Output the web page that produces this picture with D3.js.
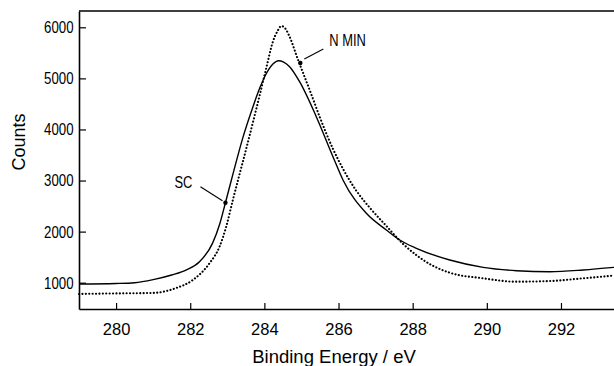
<!DOCTYPE html>
<html>
<head>
<meta charset="utf-8">
<script src="https://cdn.jsdelivr.net/npm/d3@7"></script>
<style>
  body { margin: 0; background: #fff; }
  svg { display: block; font-family: "Liberation Sans", Arial, sans-serif; }
</style>
</head>
<body>
<svg id="chart"></svg>
<script>
// binding energy (eV) and counts
const energySC = [279.0, 280.0, 280.5, 281.0, 281.5, 281.9, 282.25, 282.6, 282.8, 282.95, 283.15, 283.42, 283.69, 283.87, 284.05, 284.23, 284.38, 284.52, 284.68, 284.95, 285.4, 285.85, 286.12, 286.75, 287.29, 287.65, 288.1, 289.0, 289.9, 290.8, 291.7, 292.6, 293.43];
const countsSC = [975, 985, 1000, 1060, 1150, 1250, 1410, 1770, 2160, 2566, 3120, 3840, 4440, 4800, 5090, 5280, 5346, 5320, 5229, 4935, 4250, 3467, 3011, 2359, 2032, 1836, 1673, 1444, 1301, 1235, 1215, 1249, 1300];

const energyNMIN = [279.0, 280.0, 281.0, 281.6, 282.07, 282.52, 282.79, 282.97, 283.15, 283.3, 283.51, 283.74, 283.87, 284.05, 284.23, 284.35, 284.46, 284.57, 284.68, 284.9, 285.27, 285.49, 285.85, 286.12, 286.48, 286.84, 287.29, 287.74, 288.1, 288.55, 289.0, 289.9, 290.8, 291.7, 292.6, 293.43];
const countsNMIN = [780, 790, 800, 890, 1053, 1380, 1705, 2096, 2619, 3040, 3620, 4280, 4660, 5200, 5720, 5920, 6025, 5970, 5816, 5380, 4680, 4250, 3620, 3230, 2800, 2470, 2110, 1760, 1540, 1330, 1195, 1086, 1020, 1033, 1086, 1140];

const xTicks = [280, 282, 284, 286, 288, 290, 292];
const yTicks = [1000, 2000, 3000, 4000, 5000, 6000];

// labelled points: [energy, counts]
const markSC = [282.95, 2566];
const markNMIN = [284.97, 5300];

const width = 614, height = 366;
const margin = {top: 11, right: 0, bottom: 57, left: 79};

const svg = d3.select('#chart')
    .attr('width', width)
    .attr('height', height);

const x = d3.scaleLinear()
    .domain([279, 293.43])
    .range([margin.left, width - margin.right]);

const y = d3.scaleLinear()
    .domain([485, 6319])
    .range([height - margin.bottom, margin.top]);

// axes, ticks pointing inward
svg.append('g')
    .attr('transform', `translate(0, ${height - margin.bottom})`)
    .call(d3.axisBottom(x).tickValues(xTicks).tickSizeInner(-6).tickSizeOuter(0).tickPadding(14))
    .call(g => g.select('.domain').attr('stroke-width', 1.6))
    .call(g => g.selectAll('.tick line').attr('stroke-width', 1.2))
    .call(g => g.selectAll('.tick text').attr('font-size', 16.5).attr('fill', '#000'));

svg.append('g')
    .attr('transform', `translate(${margin.left}, 0)`)
    .call(d3.axisLeft(y).tickValues(yTicks).tickFormat(d3.format('d')).tickSizeInner(-7).tickSizeOuter(0).tickPadding(0))
    .call(g => g.select('.domain').attr('stroke-width', 1.6))
    .call(g => g.selectAll('.tick line').attr('stroke-width', 1.2))
    .call(g => g.selectAll('.tick text')
        .attr('font-size', 17)
        .attr('fill', '#000')
        .attr('x', null)
        .attr('transform', 'translate(-5.5, 0) scale(0.78, 1)'));

// top frame line
svg.append('line')
    .attr('x1', margin.left).attr('x2', width - margin.right)
    .attr('y1', margin.top).attr('y2', margin.top)
    .attr('stroke', '#000')
    .attr('stroke-width', 1.6);

// axis titles
svg.append('text')
    .attr('x', 334)
    .attr('y', 363)
    .attr('text-anchor', 'middle')
    .attr('font-size', 18.5)
    .text('Binding Energy / eV');

svg.append('text')
    .attr('transform', 'translate(24.5, 142) rotate(-90)')
    .attr('text-anchor', 'middle')
    .attr('font-size', 18)
    .text('Counts');

const line = d3.line()
    .x(d => x(d[0]))
    .y(d => y(d[1]))
    .curve(d3.curveMonotoneX);

svg.append('path')
    .datum(d3.zip(energySC, countsSC))
    .attr('d', line)
    .attr('fill', 'none')
    .attr('stroke', '#000')
    .attr('stroke-width', 1.4);

svg.append('path')
    .datum(d3.zip(energyNMIN, countsNMIN))
    .attr('d', line)
    .attr('fill', 'none')
    .attr('stroke', '#000')
    .attr('stroke-width', 2.1)
    .attr('stroke-linecap', 'round')
    .attr('stroke-dasharray', '0.1,3.3');

// annotations
const notes = [
    {p: markSC, text: 'SC', dx1: -3, dy1: -2, dx2: -25, dy2: -16, tx: -33, ty: -15, anchor: 'end'},
    {p: markNMIN, text: 'N MIN', dx1: 4, dy1: -4, dx2: 23, dy2: -14, tx: 29, ty: -17, anchor: 'start'}
];

notes.forEach(n => {
    const px = x(n.p[0]), py = y(n.p[1]);
    svg.append('circle')
        .attr('cx', px).attr('cy', py).attr('r', 2.2)
        .attr('fill', '#000');
    svg.append('line')
        .attr('x1', px + n.dx1).attr('y1', py + n.dy1)
        .attr('x2', px + n.dx2).attr('y2', py + n.dy2)
        .attr('stroke', '#000').attr('stroke-width', 1.1);
    svg.append('text')
        .attr('transform', `translate(${px + n.tx}, ${py + n.ty}) scale(0.76, 1)`)
        .attr('text-anchor', n.anchor)
        .attr('font-size', 17)
        .text(n.text);
});
</script>
</body>
</html>
